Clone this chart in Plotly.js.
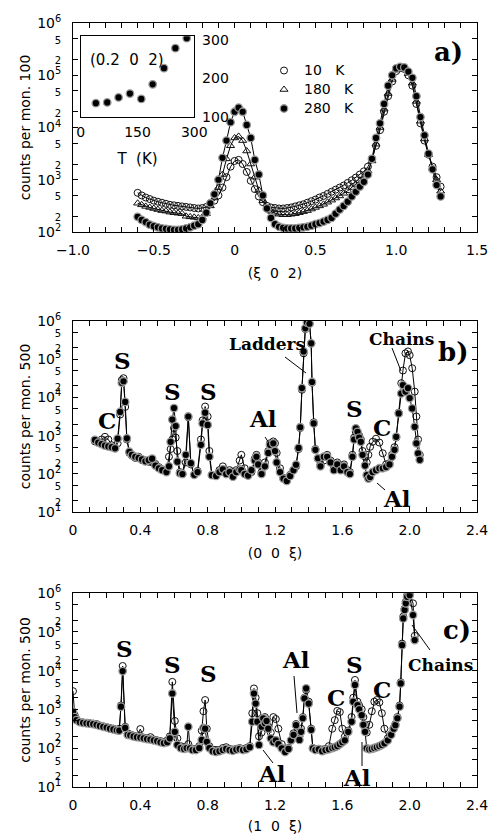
<!DOCTYPE html>
<html><head><meta charset="utf-8">
<script src="https://cdn.plot.ly/plotly-3.0.1.min.js"></script>
<style>html,body{margin:0;padding:0;background:#fff;}#chart{width:488px;height:838px;}</style>
</head><body><div id="chart"></div>
<script>
// ---------- Panel a: (xi 0 2) scans ----------
const xiA = [-0.6,-0.575,-0.55,-0.525,-0.5,-0.475,-0.45,-0.425,-0.4,-0.375,-0.35,-0.325,-0.3,-0.275,-0.25,-0.225,-0.2,-0.175,-0.15,-0.125,-0.1,-0.075,-0.05,-0.025,0,0.025,0.05,0.075,0.1,0.125,0.15,0.175,0.2,0.225,0.25,0.275,0.3,0.325,0.35,0.375,0.4,0.425,0.45,0.475,0.5,0.525,0.55,0.575,0.6,0.625,0.65,0.675,0.7,0.725,0.75,0.775,0.8,0.825,0.85,0.875,0.9,0.925,0.95,0.975,1.0,1.025,1.05,1.075,1.1,1.125,1.15,1.175,1.2,1.225,1.25,1.275];
const a10K = [562,501,457,427,398,380,363,347,331,324,316,309,302,295,288,282,288,302,339,398,501,708,1120,1780,2290,2400,2000,1410,955,661,479,372,316,295,288,282,282,288,295,309,324,339,363,389,417,457,490,537,589,646,708,776,871,977,1100,1260,1450,1780,2510,4470,8910,20000,39800,75900,120000,138000,132000,100000,63100,28200,12000,5620,3020,1780,1120,741];
const a180K = [355,331,309,295,282,269,257,251,240,234,229,224,200,195,191,186,191,224,316,447,708,1260,2510,4470,6310,6760,5620,3550,2000,1120,631,398,295,251,229,219,214,214,219,224,234,245,257,275,295,316,339,372,407,447,490,550,617,708,813,955,1150,1480,2290,4790,10000,22400,44700,83200,126000,141000,135000,107000,70800,31600,13200,6030,3020,1660,1000,603];
const a280K = [195,170,155,138,129,123,117,115,112,110,110,112,117,123,132,141,170,234,355,525,1000,2630,5620,12600,20000,24000,20000,11200,6310,2400,1260,501,282,186,141,126,120,117,117,117,120,123,126,132,141,148,158,170,186,224,269,316,380,479,589,741,912,1260,2510,6310,12000,28200,63100,100000,135000,145000,141000,117000,89100,39800,15800,7080,3160,1580,794,479];
// inset: intensity at (0.2 0 2) vs temperature
const insetT = [40,70,100,130,160,190,220,250,280];
const insetCounts = [136,138,151,161,147,185,227,279,305];

// ---------- Panel b: (0 0 xi) ----------
const xiB = [0.13,0.15,0.17,0.19,0.21,0.23,0.25,0.265,0.28,0.29,0.30,0.31,0.32,0.335,0.35,0.37,0.39,0.41,0.43,0.45,0.47,0.49,0.51,0.53,0.555,0.57,0.58,0.59,0.60,0.61,0.62,0.635,0.65,0.67,0.685,0.70,0.72,0.74,0.76,0.77,0.785,0.80,0.81,0.825,0.85,0.87,0.89,0.91,0.93,0.95,0.97,0.99,1.00,1.02,1.04,1.06,1.08,1.09,1.10,1.12,1.14,1.16,1.17,1.19,1.20,1.21,1.23,1.25,1.27,1.29,1.31,1.325,1.34,1.35,1.36,1.37,1.38,1.39,1.405,1.415,1.42,1.43,1.44,1.455,1.47,1.49,1.51,1.53,1.55,1.57,1.59,1.61,1.63,1.645,1.66,1.67,1.68,1.69,1.70,1.71,1.72,1.735,1.745,1.755,1.765,1.78,1.80,1.82,1.84,1.86,1.88,1.895,1.91,1.92,1.935,1.95,1.96,1.975,1.99,2.00,2.015,2.03,2.04,2.05,2.06];
const bFilled = [776,661,603,550,525,501,468,832,4170,24000,26300,7590,851,380,316,282,263,240,214,229,251,166,141,126,112,158,692,2630,5250,1780,209,105,100,316,3160,191,95,112,575,2090,3980,1910,282,93,89,112,132,100,112,85,112,132,126,100,91,126,224,282,178,100,158,355,575,631,398,200,112,76,66,89,126,174,479,1660,17400,158000,631000,891000,832000,257000,25100,2090,427,257,158,282,282,200,126,178,126,158,112,100,282,794,1550,1260,891,692,316,166,93,76,83,112,126,141,141,151,178,282,427,933,3800,12600,20900,14100,17400,9550,5130,1700,631,347,234];
const bOpen = [708,692,794,933,794,562,479,631,3550,28200,31600,5620,794,355,302,263,282,229,224,209,200,182,151,132,115,282,447,794,1580,891,398,112,100,200,3020,178,95,120,794,2510,5750,3160,398,95,91,126,158,112,126,93,126,224,316,141,100,112,251,316,200,112,200,398,631,708,631,355,141,79,71,95,126,158,447,1580,15800,141000,603000,891000,851000,251000,24000,2240,447,251,178,224,316,224,141,200,158,178,126,112,316,891,1260,1120,1000,794,398,282,200,316,513,692,832,661,347,178,191,316,501,891,3980,23400,50100,141000,158000,126000,57500,14100,3160,794,316];

// ---------- Panel c: (1 0 xi) ----------
const xiC = [0,0.01,0.02,0.04,0.06,0.08,0.10,0.12,0.14,0.16,0.18,0.20,0.22,0.24,0.26,0.275,0.285,0.295,0.31,0.325,0.34,0.36,0.38,0.40,0.42,0.44,0.46,0.48,0.50,0.52,0.54,0.56,0.575,0.59,0.605,0.62,0.64,0.66,0.675,0.685,0.695,0.71,0.73,0.75,0.765,0.775,0.785,0.795,0.81,0.83,0.85,0.87,0.89,0.91,0.93,0.95,0.97,0.99,1.01,1.03,1.05,1.065,1.075,1.085,1.095,1.105,1.12,1.13,1.14,1.15,1.16,1.175,1.19,1.205,1.22,1.24,1.26,1.28,1.295,1.31,1.325,1.345,1.355,1.365,1.375,1.385,1.40,1.415,1.425,1.44,1.46,1.48,1.50,1.52,1.54,1.555,1.57,1.585,1.60,1.615,1.635,1.655,1.665,1.675,1.69,1.70,1.715,1.725,1.735,1.745,1.76,1.775,1.79,1.805,1.82,1.835,1.85,1.87,1.89,1.905,1.915,1.927,1.94,1.947,1.955,1.962,1.97,1.977,1.985,2.00,2.02,2.03];
const cFilled = [871,631,525,468,447,437,427,417,398,372,355,339,316,302,288,282,1170,9770,331,219,214,200,191,186,178,170,166,158,151,141,135,141,178,2570,263,120,100,95,100,355,98,89,89,100,162,331,316,145,100,83,79,83,89,95,89,85,91,95,89,93,105,479,2570,1410,479,120,355,589,437,501,316,178,141,158,126,98,79,95,158,219,389,162,263,589,1910,3470,1410,295,98,89,93,83,89,93,100,105,112,126,141,158,263,479,1580,4270,1290,1000,708,398,263,98,93,95,100,105,112,120,132,158,219,316,389,589,1170,4680,45700,224000,372000,550000,813000,891000,275000,61700];
const cOpen = [2950,708,562,479,457,447,437,427,417,380,363,347,331,316,295,316,1260,13200,355,240,224,209,200,309,186,178,191,166,158,151,141,158,200,5130,501,178,112,105,100,126,100,95,95,112,282,891,1740,316,112,91,89,89,100,105,95,91,95,100,95,100,112,794,3470,2000,794,200,251,501,631,398,355,251,631,562,316,126,89,100,158,240,417,200,316,631,2000,3160,1580,316,100,93,95,91,95,112,316,525,912,851,316,200,282,631,2000,5750,1580,1260,1000,631,398,251,398,891,1580,1740,1510,794,316,178,229,331,417,631,1260,5010,50100,251000,398000,603000,891000,955000,550000,79400];

// ---------- tick labels ----------
const sm = s => '<span style="font-size:10px">' + s + '</span>';
const yTickValsA = [1e2,2e2,5e2,1e3,2e3,5e3,1e4,2e4,5e4,1e5,2e5,5e5,1e6];
const yTickTextA = ['10<sup>2</sup>',sm('2'),sm('5'),'10<sup>3</sup>',sm('2'),sm('5'),'10<sup>4</sup>',sm('2'),sm('5'),'10<sup>5</sup>',sm('2'),sm('5'),'10<sup>6</sup>'];
const yTickValsBC = [1e1,2e1,5e1,1e2,2e2,5e2,1e3,2e3,5e3,1e4,2e4,5e4,1e5,2e5,5e5,1e6];
const yTickTextBC = ['10<sup>1</sup>',sm('2'),sm('5'),'10<sup>2</sup>',sm('2'),sm('5'),'10<sup>3</sup>',sm('2'),sm('5'),'10<sup>4</sup>',sm('2'),sm('5'),'10<sup>5</sup>',sm('2'),sm('5'),'10<sup>6</sup>'];
const xTickValsA = [-1,-0.5,0,0.5,1,1.5];
const xTickTextA = ['\u22121.0','\u22120.5','0','0.5','1.0','1.5'];
const xTickValsBC = [0,0.4,0.8,1.2,1.6,2.0,2.4];
const xTickTextBC = ['0','0.4','0.8','1.2','1.6','2.0','2.4'];
const insetXTicks = [0,150,300];
const insetYTicks = [100,200,300];

// ---------- layout helpers ----------
const W = 488, H = 838;
const px = v => v / W, py = v => 1 - v / H;
const SANS = 'DejaVu Sans', SERIF = 'DejaVu Serif';
const FILL = {color:'#000', size:7.5, line:{color:'#9a9a9a', width:1.3}};
const OPENC = {symbol:'circle', color:'rgba(255,255,255,0)', size:7, line:{color:'#111', width:1}};
const TRI = {symbol:'triangle-up', color:'rgba(255,255,255,0)', size:7, line:{color:'#111', width:1}};
const LN = {color:'#000', width:1};
const leg = s => '<span style="font-size:14px">' + s + '</span>';

const traces = [
  // panel a lines
  {x:xiA, y:a10K, mode:'lines', line:LN, xaxis:'x', yaxis:'y', showlegend:false, hoverinfo:'skip'},
  {x:xiA, y:a180K, mode:'lines', line:LN, xaxis:'x', yaxis:'y', showlegend:false, hoverinfo:'skip'},
  {x:xiA, y:a280K, mode:'lines', line:LN, xaxis:'x', yaxis:'y', showlegend:false, hoverinfo:'skip'},
  // panel a markers (legend)
  {x:xiA, y:a10K, mode:'markers', marker:OPENC, name:leg('10   K'), xaxis:'x', yaxis:'y'},
  {x:xiA, y:a180K, mode:'markers', marker:TRI, name:leg('180   K'), xaxis:'x', yaxis:'y'},
  {x:xiA, y:a280K, mode:'markers', marker:FILL, name:leg('280   K'), xaxis:'x', yaxis:'y'},
  // inset
  {x:insetT, y:insetCounts, mode:'markers', marker:FILL, xaxis:'x4', yaxis:'y4', showlegend:false},
  // panel b
  {x:xiB, y:bOpen, mode:'lines+markers', line:LN, marker:OPENC, xaxis:'x2', yaxis:'y2', showlegend:false},
  {x:xiB, y:bFilled, mode:'lines+markers', line:LN, marker:FILL, xaxis:'x2', yaxis:'y2', showlegend:false},
  // panel c
  {x:xiC, y:cOpen, mode:'lines+markers', line:LN, marker:OPENC, xaxis:'x3', yaxis:'y3', showlegend:false},
  {x:xiC, y:cFilled, mode:'lines+markers', line:LN, marker:FILL, xaxis:'x3', yaxis:'y3', showlegend:false}
];

const base = {showline:true, linecolor:'#000', linewidth:1, mirror:'allticks', ticks:'inside', ticklen:5,
  tickcolor:'#000', showgrid:false, zeroline:false, ticklabeloverflow:'allow',
  tickfont:{family:SANS, size:14, color:'#000'}};
const xMinor = {tickmode:'linear', tick0:0, dtick:0.1, ticks:'inside', ticklen:5, tickcolor:'#000', showgrid:false};

function xAx(dom, anchor, range, tv, tt, title, st){
  return Object.assign({}, base, {domain:dom, anchor:anchor, range:range, tickmode:'array', tickvals:tv, ticktext:tt,
    minor:xMinor, ticklabelstandoff:5, title:{text:title, font:{family:SANS, size:14}, standoff:st}});
}
function yAx(dom, anchor, range, tv, tt, title){
  return Object.assign({}, base, {domain:dom, anchor:anchor, type:'log', range:range, tickmode:'array', tickvals:tv, ticktext:tt,
    ticklabelstandoff:8, title:{text:title, font:{family:SANS, size:14}, standoff:3}});
}

const domX = [px(73), px(477)];
const layout = {
  width:W, height:H, margin:{l:0, r:0, t:0, b:0}, paper_bgcolor:'#fff', plot_bgcolor:'rgba(0,0,0,0)',
  font:{family:SANS, color:'#000'},
  xaxis: xAx(domX, 'y', [-1, 1.5], xTickValsA, xTickTextA, '(\u03be  0  2)', 11),
  yaxis: yAx([py(232), py(23)], 'x', [2, 6], yTickValsA, yTickTextA, 'counts per mon. 100'),
  xaxis2: xAx(domX, 'y2', [0, 2.4], xTickValsBC, xTickTextBC, '(0  0  \u03be)', 11),
  yaxis2: yAx([py(512.3), py(320.7)], 'x2', [1, 6], yTickValsBC, yTickTextBC, 'counts per mon. 500'),
  xaxis3: xAx(domX, 'y3', [0, 2.4], xTickValsBC, xTickTextBC, '(1  0  \u03be)', 9),
  yaxis3: yAx([py(786.7), py(593.3)], 'x3', [1, 6], yTickValsBC, yTickTextBC, 'counts per mon. 500'),
  xaxis4: {domain:[px(80.7), px(194.3)], anchor:'y4', range:[0, 300], tickmode:'array', tickvals:insetXTicks,
    showline:true, linecolor:'#000', linewidth:1, mirror:true, ticks:'', showgrid:false, zeroline:false,
    tickfont:{family:SANS, size:14, color:'#000'}, ticklabelstandoff:2, ticklabeloverflow:'allow',
    title:{text:'T  (K)', font:{family:SANS, size:15}, standoff:14}},
  yaxis4: {domain:[py(117), py(36.3)], anchor:'x4', side:'right', range:[100, 310], tickmode:'array', tickvals:insetYTicks,
    showline:true, linecolor:'#000', linewidth:1, mirror:true, ticks:'', showgrid:false, zeroline:false,
    tickfont:{family:SANS, size:14, color:'#000'}, ticklabelstandoff:4, ticklabeloverflow:'allow'},
  legend:{x:px(264), y:py(56), xanchor:'left', yanchor:'top', bgcolor:'rgba(0,0,0,0)', borderwidth:0,
    font:{family:SANS, size:12, color:'#000'}, tracegroupgap:0, itemsizing:'trace'},
  annotations:[],
  shapes:[]
};

function lab(text, x, y, size){
  layout.annotations.push({text:'<b>'+text+'</b>', x:px(x), y:py(y), xref:'paper', yref:'paper', showarrow:false,
    xanchor:'center', yanchor:'middle', font:{family:SERIF, size:size, color:'#000'}});
}
function ptr(x0, y0, x1, y1){
  layout.shapes.push({type:'line', xref:'paper', yref:'paper', x0:px(x0), y0:py(y0), x1:px(x1), y1:py(y1), line:{color:'#000', width:1}});
}
// inset label
layout.annotations.push({text:'(0.2  0  2)', x:px(127), y:py(60), xref:'paper', yref:'paper', showarrow:false,
  xanchor:'center', yanchor:'middle', font:{family:SANS, size:15, color:'#000'}});
// panel labels
lab('a)', 448, 52, 26); lab('b)', 453, 352, 26); lab('c)', 457, 630, 26);
// panel b peak labels
lab('S', 123, 360, 23); lab('C', 107, 420, 23); lab('S', 172, 392, 23); lab('S', 208, 392, 23);
lab('Al', 263, 418, 23); lab('Ladders', 267, 344, 17); lab('Chains', 401, 339, 17);
lab('S', 354, 408, 23); lab('C', 382, 427, 23); lab('Al', 397, 498, 23);
ptr(265, 437, 269, 443); ptr(285, 357, 306, 373); ptr(392, 348, 401, 371); ptr(385, 490, 377, 483);
// panel c peak labels
lab('S', 124, 648, 23); lab('S', 172, 664, 23); lab('S', 208, 673, 23);
lab('Al', 272, 773, 23); lab('Al', 296, 659, 23); lab('S', 354, 664, 23);
lab('C', 336, 697, 23); lab('C', 382, 689, 23); lab('Al', 357, 777, 23); lab('Chains', 440, 665, 17);
ptr(263, 750, 273, 763); ptr(294, 676, 297, 713); ptr(362, 742, 362, 766); ptr(412, 625, 430, 650);

Plotly.newPlot('chart', traces, layout, {staticPlot:true, displayModeBar:false});
</script>
</body></html>
